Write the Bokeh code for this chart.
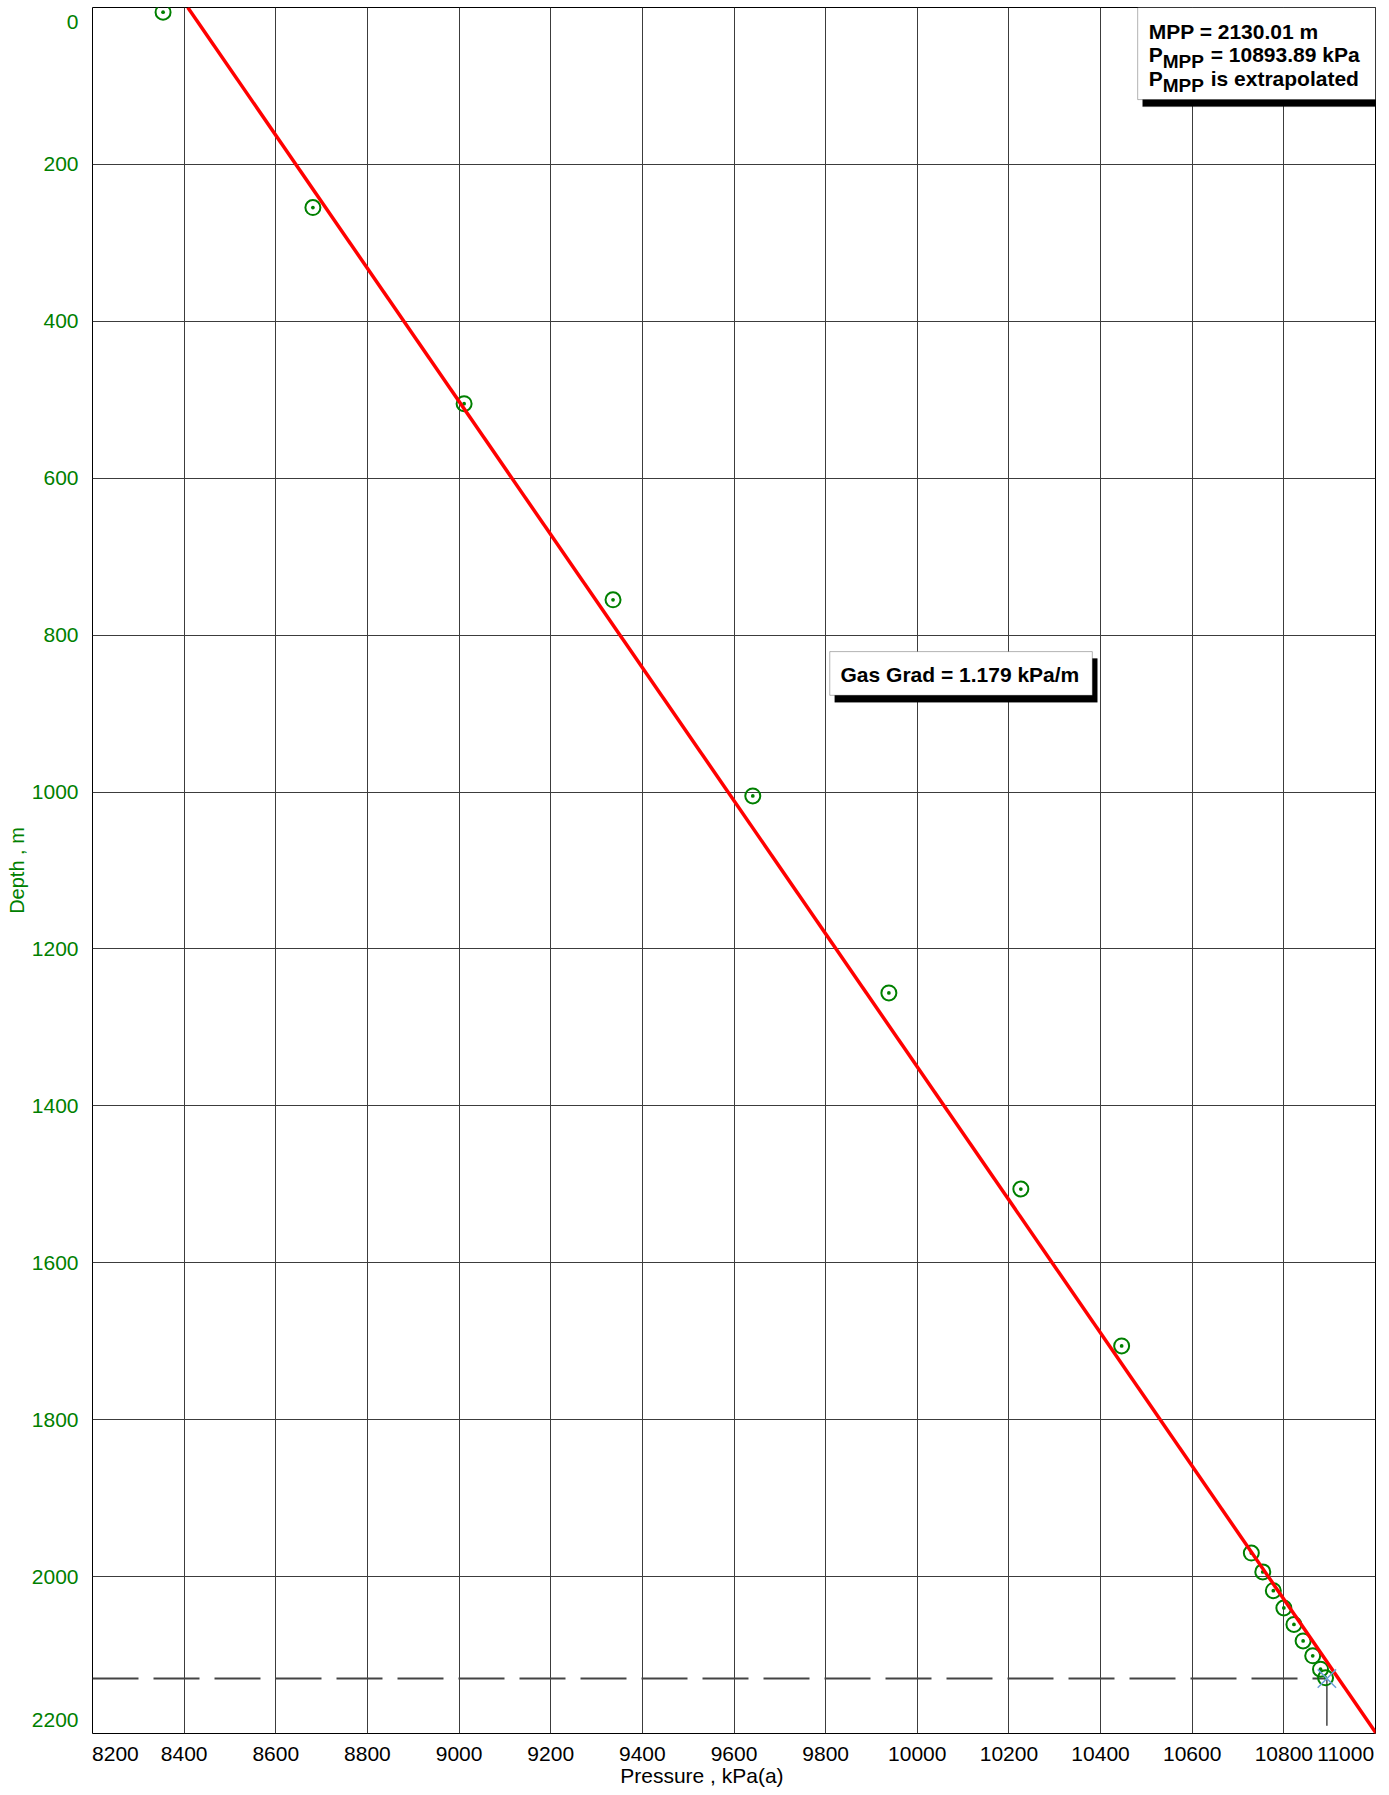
from bokeh.plotting import figure
from bokeh.models import Range1d, FixedTicker, Label, BoxAnnotation
from bokeh.embed import file_html
from bokeh.resources import INLINE

# ---------------- data ----------------
pressure_kpa = [8354, 8681, 9011, 9336, 9641, 9938, 10226, 10446,
                10729, 10754, 10777, 10800, 10822, 10842, 10863, 10880, 10891]
depth_m = [6, 255, 505, 755, 1005, 1256, 1506, 1706,
           1970, 1994, 2018, 2040, 2061, 2082, 2101, 2118, 2129]

pressure_ticks = [8200, 8400, 8600, 8800, 9000, 9200, 9400, 9600, 9800,
                  10000, 10200, 10400, 10600, 10800, 11000]
depth_ticks = [0, 200, 400, 600, 800, 1000, 1200, 1400, 1600, 1800,
               2000, 2200]

mpp_depth = 2130.01
mpp_pressure = 10893.89
gas_grad = 1.179                 # kPa/m
grad_line_p_surface = 8408       # kPa at 0 m for the gradient line
grad_line_depths = [0, 2200]
mpp_tail_depth = 2190

# ---------------- layout ----------------
W, H = 1389, 1795
BL, BR, BT, BB = 92, 14, 7, 62
px_per_kpa = (W - BL - BR) / (pressure_ticks[-1] - pressure_ticks[0])
px_per_m = (H - BT - BB) / (depth_ticks[-1] - depth_ticks[0])

FONT = "Liberation Sans"
GREEN = "#008000"
GRID = "#3c3c3c"

p = figure(width=W, height=H, output_backend="svg", toolbar_location=None,
           x_range=Range1d(pressure_ticks[0], pressure_ticks[-1]),
           y_range=Range1d(depth_ticks[-1], depth_ticks[0]),
           min_border_left=BL, min_border_right=BR, min_border_top=BT,
           min_border_bottom=BB)
p.background_fill_color = "white"
p.border_fill_color = "white"
p.outline_line_color = "black"
p.outline_line_width = 1

# grid at the interior ticks
p.xgrid.ticker = FixedTicker(ticks=pressure_ticks[1:-1])
p.ygrid.ticker = FixedTicker(ticks=depth_ticks[1:-1])
for g in (p.xgrid, p.ygrid):
    g.grid_line_color = GRID
    g.grid_line_width = 1

# axis labels: the edge labels are pulled inside the frame extent, as in the reference
x_first = int(round(pressure_ticks[0] + 23 / px_per_kpa))
x_last = int(round(pressure_ticks[-1] - 30 / px_per_kpa))
y_first = int(round(depth_ticks[0] + 14 / px_per_m))
y_last = int(round(depth_ticks[-1] - 13 / px_per_m))
p.xaxis.ticker = FixedTicker(ticks=[x_first] + pressure_ticks[1:-1] + [x_last])
p.xaxis.major_label_overrides = {x_first: str(pressure_ticks[0]), x_last: str(pressure_ticks[-1])}
p.yaxis.ticker = FixedTicker(ticks=[y_first] + depth_ticks[1:-1] + [y_last])
p.yaxis.major_label_overrides = {y_first: str(depth_ticks[0]), y_last: str(depth_ticks[-1])}

for ax in (p.xaxis, p.yaxis):
    ax.major_tick_in = 0
    ax.major_tick_out = 0
    ax.minor_tick_in = 0
    ax.minor_tick_out = 0
    ax.axis_line_color = None
    ax.major_label_text_font = FONT
    ax.major_label_text_font_size = "21px"
    ax.axis_label_text_font = FONT
    ax.axis_label_text_font_size = "21px"
    ax.axis_label_text_font_style = "normal"

p.xaxis.axis_label = "Pressure , kPa(a)" + "\u00a0" * 11
p.xaxis.major_label_text_color = "black"
p.xaxis.axis_label_text_color = "black"
p.xaxis.major_label_standoff = 13
p.xaxis.axis_label_standoff = 0

p.yaxis.axis_label = "Depth , m"
p.yaxis.major_label_text_color = GREEN
p.yaxis.axis_label_text_color = GREEN
p.yaxis.axis_label_text_font_size = "20px"
p.yaxis.major_label_standoff = 14
p.yaxis.axis_label_standoff = 1

# ---------------- glyphs ----------------
p.line([pressure_ticks[0], mpp_pressure], [mpp_depth, mpp_depth],
       line_color="#444444", line_width=2, line_dash="46 15")
p.segment(x0=[mpp_pressure], y0=[mpp_depth], x1=[mpp_pressure], y1=[mpp_tail_depth],
          line_color="#444444", line_width=1.5)
p.scatter(pressure_kpa, depth_m, marker="circle_dot", size=15,
          line_color=GREEN, fill_color=None, line_width=2)
p.line([grad_line_p_surface + gas_grad * d for d in grad_line_depths], grad_line_depths,
       line_color="#ff0000", line_width=3.5)
p.scatter([mpp_pressure], [mpp_depth], marker="x", size=26,
          line_color="#6f9fd8", line_width=1.5)

# ---------------- annotation boxes ----------------
SHX = 5 / px_per_kpa
SHY = 7 / px_per_m

def shadow_box(left, right, top, bottom):
    p.add_layout(BoxAnnotation(left=left + SHX, right=right + SHX, top=top + SHY,
                               bottom=bottom + SHY, fill_color="black", fill_alpha=1,
                               line_color="black"))
    p.add_layout(BoxAnnotation(left=left, right=right, top=top, bottom=bottom,
                               fill_color="white", fill_alpha=1, line_color="black",
                               line_width=1))

def txt(text, x, y, size="21px", x_off=0, y_off=0, align="left"):
    p.add_layout(Label(x=x, y=y, text=text, x_offset=x_off, y_offset=y_off,
                       text_align=align, text_baseline="alphabetic",
                       text_font=FONT, text_font_size=size, text_font_style="bold",
                       text_color="black"))

# Gas gradient box
shadow_box(9809, 10382, 821, 876.7)
txt(f"Gas Grad = {gas_grad:.3f} kPa/m", 10093, 850, align="center")

# MPP box
shadow_box(10481, 11000, 0, 117.4)
tx = 10505
txt(f"MPP = {mpp_depth:.2f} m", tx, 31)
txt("P", tx, 60)
txt("MPP", tx, 60, size="19px", x_off=14, y_off=-7)
txt(f"= {mpp_pressure:.2f} kPa", tx, 60, x_off=62)
txt("P", tx, 90)
txt("MPP", tx, 90, size="19px", x_off=14, y_off=-7)
txt("is extrapolated", tx, 90, x_off=62)

open("out.html", "w").write(file_html(p, INLINE, "MPP chart"))
